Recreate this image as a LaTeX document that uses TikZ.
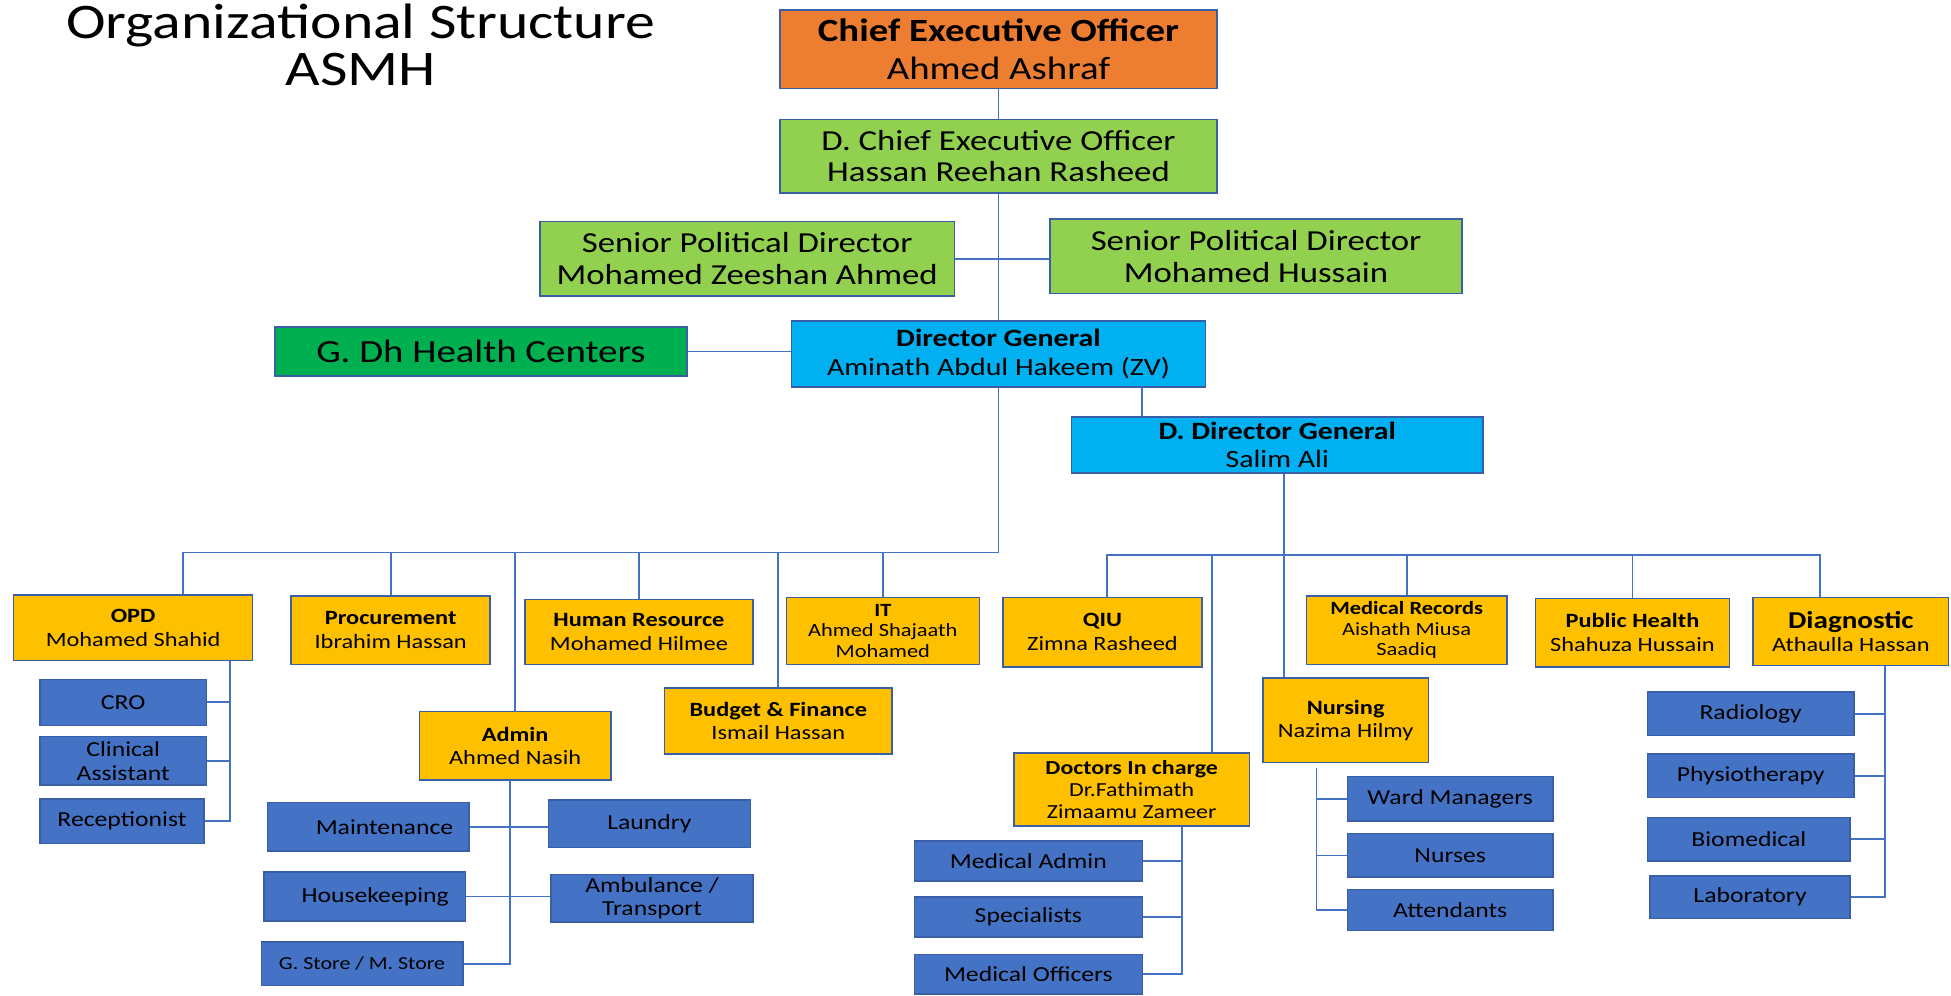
\documentclass[tikz,border=0pt]{standalone}
\usepackage{fontspec}
\setmainfont{Carlito}[FakeStretch=1.2]
\usetikzlibrary{positioning}

\definecolor{ceoorange}{HTML}{ED7D31}
\definecolor{lightgreen}{HTML}{92D050}
\definecolor{darkgreen}{HTML}{00B050}
\definecolor{dgcyan}{HTML}{00B0F0}
\definecolor{deptyellow}{HTML}{FFC000}
\definecolor{unitblue}{HTML}{4472C4}
\definecolor{boxline}{HTML}{3A5FA8}
\definecolor{linkblue}{HTML}{4472C4}

\begin{document}
\begin{tikzpicture}[
  x=1pt, y=-1pt,
  box/.style={draw=boxline, line width=1.2pt, align=center, inner sep=1pt},
  topbox/.style={box, font=\fontsize{23.3}{25.5}\selectfont, fill=lightgreen},
  ceobox/.style={box, font=\fontsize{26}{30}\selectfont, fill=ceoorange},
  hcbox/.style={box, font=\fontsize{26}{28}\selectfont, fill=darkgreen},
  dgbox/.style={box, font=\fontsize{20}{23}\selectfont, fill=dgcyan},
  deptbox/.style={box, font=\fontsize{16.3}{19}\selectfont, fill=deptyellow},
  tightdept/.style={box, font=\fontsize{15}{16.5}\selectfont, fill=deptyellow},
  unitbox/.style={box, font=\fontsize{17.2}{19}\selectfont, fill=unitblue},
  link/.style={draw=linkblue, line width=1.5pt}
]
\useasboundingbox (0,0) rectangle (1568,800);

% Title
\node[font=\fontsize{40}{38}\selectfont, align=center] (title) at (290,36)
  {Organizational Structure\\ASMH};

% Top management
\node[ceobox, minimum width=351pt, minimum height=63pt] (ceo) at (802.5,39.5)
  {\textbf{Chief Executive Officer}\\Ahmed Ashraf};
\node[topbox, minimum width=351pt, minimum height=59pt] (dceo) at (802.5,125.5)
  {D. Chief Executive Officer\\Hassan Reehan Rasheed};
\node[topbox, minimum width=333pt, minimum height=60pt] (spdl) at (600.5,208)
  {Senior Political Director\\Mohamed Zeeshan Ahmed};
\node[topbox, minimum width=331pt, minimum height=60pt] (spdr) at (1009.5,206)
  {Senior Political Director\\Mohamed Hussain};
\node[hcbox, minimum width=331pt, minimum height=39pt] (gdh) at (386.5,282.5)
  {G. Dh Health Centers};
\node[dgbox, minimum width=333pt, minimum height=53pt] (dg) at (802.5,284.5)
  {\textbf{Director General}\\Aminath Abdul Hakeem (ZV)};
\node[dgbox, minimum width=331pt, minimum height=45pt] (ddg) at (1026.5,357.5)
  {\textbf{D. Director General}\\Salim Ali};

% Departments under DG
\node[deptbox, minimum width=192pt, minimum height=53pt] (opd) at (107,504.5)
  {\textbf{OPD}\\Mohamed Shahid};
\node[deptbox, minimum width=160pt, minimum height=55pt] (proc) at (314,506.5)
  {\textbf{Procurement}\\Ibrahim Hassan};
\node[deptbox, minimum width=183pt, minimum height=52pt] (hr) at (513.5,508)
  {\textbf{Human Resource}\\Mohamed Hilmee};
\node[tightdept, minimum width=155pt, minimum height=54pt] (it) at (709.5,507)
  {\textbf{IT}\\Ahmed Shajaath\\Mohamed};
\node[deptbox, minimum width=183pt, minimum height=53pt] (budget) at (625.5,579.5)
  {\textbf{Budget \& Finance}\\Ismail Hassan};
\node[deptbox, minimum width=154pt, minimum height=55pt] (admin) at (414,599.5)
  {\textbf{Admin}\\Ahmed Nasih};

% Departments under DDG
\node[deptbox, minimum width=160pt, minimum height=56pt] (qiu) at (886,508)
  {\textbf{QIU}\\Zimna Rasheed};
\node[tightdept, minimum width=161pt, minimum height=55pt] (medrec) at (1130.5,506.5)
  {\textbf{Medical Records}\\Aishath Miusa\\Saadiq};
\node[deptbox, minimum width=156pt, minimum height=55pt] (pubh) at (1312,508.5)
  {\textbf{Public Health}\\Shahuza Hussain};
\node[deptbox, minimum width=157pt, minimum height=55pt] (diag) at (1487.5,507.5)
  {{\fontsize{19.5}{19}\selectfont\textbf{Diagnostic}}\\Athaulla Hassan};
\node[deptbox, minimum width=133pt, minimum height=68pt] (nursing) at (1081.5,579)
  {\textbf{Nursing}\\Nazima Hilmy};
\node[tightdept, minimum width=189pt, minimum height=59pt, font=\fontsize{16}{17.5}\selectfont] (doctors) at (909.5,634.5)
  {\textbf{Doctors In charge}\\Dr.Fathimath\\Zimaamu Zameer};

% OPD units
\node[unitbox, minimum width=134pt, minimum height=37pt] (cro) at (99,564.5) {CRO};
\node[unitbox, minimum width=134pt, minimum height=39pt] (clin) at (99,611.5) {Clinical\\Assistant};
\node[unitbox, minimum width=132pt, minimum height=36pt] (recep) at (98,660) {Receptionist};

% Admin units
\node[unitbox, minimum width=162pt, minimum height=39pt] (maint) at (296,664.5) {\hspace*{26pt}Maintenance};
\node[unitbox, minimum width=162pt, minimum height=38pt] (laundry) at (522,662) {Laundry};
\node[unitbox, minimum width=162pt, minimum height=39pt] (house) at (293,720.5) {\hspace*{17pt}Housekeeping};
\node[unitbox, minimum width=162pt, minimum height=38pt] (amb) at (524,722) {Ambulance /\\Transport};
\node[unitbox, minimum width=162pt, minimum height=35pt, font=\fontsize{14.7}{17}\selectfont] (gstore) at (291,774.5) {G. Store / M. Store};

% Doctors units
\node[unitbox, minimum width=183pt, minimum height=32pt] (medadm) at (826.5,692) {Medical Admin};
\node[unitbox, minimum width=183pt, minimum height=32pt] (spec) at (826.5,737) {Specialists};
\node[unitbox, minimum width=183pt, minimum height=32pt] (medoff) at (826.5,783) {Medical Officers};

% Nursing units
\node[unitbox, minimum width=165pt, minimum height=36pt] (ward) at (1165.5,642) {Ward Managers};
\node[unitbox, minimum width=165pt, minimum height=35pt] (nurses) at (1165.5,687.5) {Nurses};
\node[unitbox, minimum width=165pt, minimum height=33pt] (attend) at (1165.5,731.5) {Attendants};

% Diagnostic units
\node[unitbox, minimum width=166pt, minimum height=35pt] (radio) at (1407,573.5) {Radiology};
\node[unitbox, minimum width=166pt, minimum height=35pt] (physio) at (1407,623.5) {Physiotherapy};
\node[unitbox, minimum width=163pt, minimum height=35pt] (biomed) at (1405.5,674.5) {Biomedical};
\node[unitbox, minimum width=161pt, minimum height=34pt] (lab) at (1406.5,721) {Laboratory};

% Bus and tap points
\coordinate (lbus) at (147,444);
\coordinate (rbusL) at (890,446);
\coordinate (rbusR) at (1463,446);
\coordinate (docdrop) at (974,446);
\coordinate (dgtap) at (918,311);
\coordinate (rtrunk) at (1032,446);
\coordinate (opdv) at (185,531);
\coordinate (admv) at (410,627);
\coordinate (docv) at (950,664);
\coordinate (nursv) at (1058,617);
\coordinate (diagv) at (1515,535);

% Top connections
\draw[link] (ceo) -- (dceo);
\draw[link] (dceo) -- (dg);
\draw[link] (spdl.east) -- (spdr.west |- spdl.east);
\draw[link] (gdh.east) -- (dg.west |- gdh.east);
\draw[link] (dgtap) -- (dgtap |- ddg.north);

% Left bus
\draw[link] (dg.south) |- (lbus) -- (lbus |- opd.north);
\draw[link] (proc.north) -- (proc.north |- lbus);
\draw[link] (hr.north) -- (hr.north |- lbus);
\draw[link] (it.north) -- (it.north |- lbus);
\draw[link] (budget.north) -- (budget.north |- lbus);
\draw[link] (admin.north) -- (admin.north |- lbus);

% Right bus
\draw[link] (rtrunk |- ddg.south) -- (rtrunk |- nursing.north);
\draw[link] (rbusL |- qiu.north) -- (rbusL) -- (rbusR) -- (rbusR |- diag.north);
\draw[link] (docdrop) -- (docdrop |- doctors.north);
\draw[link] (medrec.north) -- (medrec.north |- rbusL);
\draw[link] (pubh.north) -- (pubh.north |- rbusL);

% OPD units
\draw[link] (opdv) |- (recep.east);
\draw[link] (cro.east) -- (cro.east -| opdv);
\draw[link] (clin.east) -- (clin.east -| opdv);

% Admin units
\draw[link] (admv) |- (gstore.east);
\draw[link] (maint.east) -- (laundry.west |- maint.east);
\draw[link] (house.east) -- (amb.west |- house.east);

% Doctors units
\draw[link] (docv) |- (medoff.east);
\draw[link] (medadm.east) -- (medadm.east -| docv);
\draw[link] (spec.east) -- (spec.east -| docv);

% Nursing units
\draw[link] (nursv) |- (attend.west);
\draw[link] (ward.west) -- (ward.west -| nursv);
\draw[link] (nurses.west) -- (nurses.west -| nursv);

% Diagnostic units
\draw[link] (diagv) |- (lab.east);
\draw[link] (radio.east) -- (radio.east -| diagv);
\draw[link] (physio.east) -- (physio.east -| diagv);
\draw[link] (biomed.east) -- (biomed.east -| diagv);

\end{tikzpicture}
\end{document}
